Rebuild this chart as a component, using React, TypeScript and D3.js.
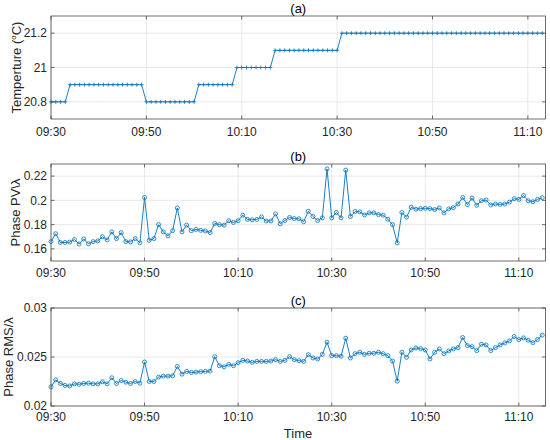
import * as d3 from 'd3'

// minutes after 09:30, one sample per minute
const xTicks = [0, 20, 40, 60, 80, 100]
const xTickLabels = ['09:30', '09:50', '10:10', '10:30', '10:50', '11:10']

const tempValues = [
  20.8, 20.8, 20.8, 20.8,
  20.9, 20.9, 20.9, 20.9, 20.9, 20.9, 20.9, 20.9, 20.9, 20.9, 20.9, 20.9, 20.9, 20.9, 20.9, 20.9,
  20.8, 20.8, 20.8, 20.8, 20.8, 20.8, 20.8, 20.8, 20.8, 20.8, 20.8,
  20.9, 20.9, 20.9, 20.9, 20.9, 20.9, 20.9, 20.9,
  21.0, 21.0, 21.0, 21.0, 21.0, 21.0, 21.0, 21.0,
  21.1, 21.1, 21.1, 21.1, 21.1, 21.1, 21.1, 21.1, 21.1, 21.1, 21.1, 21.1, 21.1, 21.1,
  21.2, 21.2, 21.2, 21.2, 21.2, 21.2, 21.2, 21.2, 21.2, 21.2, 21.2, 21.2, 21.2, 21.2, 21.2,
  21.2, 21.2, 21.2, 21.2, 21.2, 21.2, 21.2, 21.2, 21.2, 21.2, 21.2, 21.2, 21.2, 21.2, 21.2,
  21.2, 21.2, 21.2, 21.2, 21.2, 21.2, 21.2, 21.2, 21.2, 21.2, 21.2, 21.2, 21.2,
]
const tempTicks = [20.8, 21, 21.2]

const pvValues = [
  0.166, 0.1725, 0.1653, 0.1653, 0.1656, 0.1677, 0.164, 0.1682, 0.1642, 0.166,
  0.1666, 0.17, 0.1674, 0.174, 0.1685, 0.1734, 0.166, 0.1658, 0.1685, 0.165,
  0.2024, 0.167, 0.1685, 0.18, 0.174, 0.1707, 0.175, 0.1938, 0.174, 0.1796,
  0.175, 0.176, 0.1753, 0.1748, 0.1734, 0.181, 0.18, 0.1796, 0.1832, 0.1818,
  0.1832, 0.1878, 0.1843, 0.184, 0.1843, 0.1864, 0.183, 0.183, 0.1889, 0.1807,
  0.1834, 0.1859, 0.185, 0.1848, 0.1824, 0.191, 0.1867, 0.1834, 0.1856, 0.226,
  0.1856, 0.19, 0.1856, 0.225, 0.1867, 0.1908, 0.1905, 0.188, 0.1897, 0.1897,
  0.1883, 0.1878, 0.1845, 0.18, 0.165, 0.19, 0.1862, 0.1943, 0.1927, 0.1932,
  0.1935, 0.1932, 0.1924, 0.1938, 0.1897, 0.193, 0.194, 0.197, 0.2024, 0.1965,
  0.2019, 0.1959, 0.1997, 0.2003, 0.1962, 0.197, 0.1967, 0.197, 0.1986, 0.2014,
  0.2008, 0.204, 0.1997, 0.1989, 0.2008, 0.2022,
]
const pvTicks = [0.16, 0.18, 0.2, 0.22]

const rmsValues = [
  0.02195, 0.02267, 0.0223, 0.0221, 0.02205, 0.02226, 0.02222, 0.0223, 0.02233, 0.02226,
  0.02226, 0.02247, 0.02226, 0.02288, 0.0223, 0.0226, 0.02243, 0.0223, 0.0225, 0.02233,
  0.02449, 0.0225, 0.0225, 0.02295, 0.02305, 0.02305, 0.02308, 0.02404, 0.02325, 0.02353,
  0.02342, 0.02346, 0.0235, 0.02353, 0.02356, 0.02503, 0.02411, 0.024, 0.02425, 0.02411,
  0.02442, 0.02466, 0.02459, 0.02445, 0.02455, 0.02455, 0.02455, 0.02459, 0.02473, 0.02455,
  0.02466, 0.02503, 0.02473, 0.02462, 0.02455, 0.02524, 0.0249, 0.0248, 0.02527, 0.02651,
  0.02514, 0.02514, 0.02507, 0.02692, 0.0249, 0.02534, 0.02548, 0.02527, 0.02538, 0.02538,
  0.02548, 0.02534, 0.02514, 0.02459, 0.02253, 0.02548, 0.02497, 0.02572, 0.02592, 0.02586,
  0.02572, 0.0248, 0.02548, 0.02582, 0.02534, 0.02562, 0.02582, 0.02596, 0.02699, 0.02616,
  0.02606, 0.02565, 0.0263, 0.02623, 0.02565, 0.02596, 0.02623, 0.02644, 0.02664, 0.02709,
  0.02678, 0.02695, 0.02671, 0.02647, 0.02678, 0.02723,
]
const rmsTicks = [0.02, 0.025, 0.03]

const BLUE = '#0072BD'
const AXIS = '#4a4a4a'
const GRID = '#e3e3e3'
const FONT = '"Liberation Sans", Arial, Helvetica, sans-serif'

interface PanelProps {
  values: number[]
  yDomain: [number, number]
  yTicks: number[]
  xMax: number
  top: number
  bottom: number
  title: string
  ylabel: React.ReactNode
  ylabelX: number
  xLabelDy: number
  marker: 'plus' | 'circle'
}

function Panel({ values, yDomain, yTicks, xMax, top, bottom, title, ylabel, ylabelX, xLabelDy, marker }: PanelProps) {
  const left = 51
  const right = 545.5
  const x = d3.scaleLinear().domain([0, xMax]).range([left, right])
  const y = d3.scaleLinear().domain(yDomain).range([bottom, top])
  const pts = values.map((v, i) => [x(i), y(v)] as [number, number])
  const line = d3.line()(pts) || ''
  const tick = 3.5

  return (
    <g>
      {/* grid */}
      {xTicks.map((t) => (
        <line key={'gx' + t} x1={x(t)} x2={x(t)} y1={top} y2={bottom} stroke={GRID} strokeWidth={0.8} />
      ))}
      {yTicks.map((t) => (
        <line key={'gy' + t} x1={left} x2={right} y1={y(t)} y2={y(t)} stroke={GRID} strokeWidth={0.8} />
      ))}

      {/* data */}
      <path d={line} fill="none" stroke={BLUE} strokeWidth={0.9} />
      {pts.map(([px, py], i) =>
        marker === 'circle' ? (
          <circle key={i} cx={px} cy={py} r={2} fill="none" stroke={BLUE} strokeWidth={0.8} />
        ) : (
          <path key={i} d={`M${px - 2},${py}H${px + 2}M${px},${py - 2}V${py + 2}`} stroke={BLUE} strokeWidth={0.8} />
        )
      )}

      {/* box + ticks */}
      <rect x={left} y={top} width={right - left} height={bottom - top} fill="none" stroke={AXIS} strokeWidth={0.8} />
      {xTicks.map((t) => (
        <g key={'tx' + t}>
          <line x1={x(t)} x2={x(t)} y1={bottom} y2={bottom - tick} stroke={AXIS} strokeWidth={0.8} />
          <line x1={x(t)} x2={x(t)} y1={top} y2={top + tick} stroke={AXIS} strokeWidth={0.8} />
        </g>
      ))}
      {yTicks.map((t) => (
        <g key={'ty' + t}>
          <line x1={left} x2={left + tick} y1={y(t)} y2={y(t)} stroke={AXIS} strokeWidth={0.8} />
          <line x1={right} x2={right - tick} y1={y(t)} y2={y(t)} stroke={AXIS} strokeWidth={0.8} />
        </g>
      ))}

      {/* labels */}
      {xTicks.map((t, i) => (
        <text key={'lx' + t} x={x(t)} y={bottom + xLabelDy} textAnchor="middle" fontSize={12} fill="#262626">
          {xTickLabels[i]}
        </text>
      ))}
      {yTicks.map((t) => (
        <text key={'ly' + t} x={left - 4} y={y(t) + 4.2} textAnchor="end" fontSize={12} fill="#262626">
          {String(t)}
        </text>
      ))}
      <text x={(left + right) / 2} y={top - 3} textAnchor="middle" fontSize={13} fill="#000">
        {title}
      </text>
      <text
        transform={`translate(${ylabelX},${(top + bottom) / 2}) rotate(-90)`}
        textAnchor="middle"
        fontSize={13}
        fill="#262626"
      >
        {ylabel}
      </text>
    </g>
  )
}

export default function App() {
  return (
    <svg
      width={550}
      height={440}
      style={{ position: 'absolute', left: 0, top: 0, background: '#fff', fontFamily: FONT }}
    >
      <Panel
        values={tempValues}
        yDomain={[20.7, 21.3]}
        yTicks={tempTicks}
        xMax={103.7}
        top={16}
        bottom={119}
        title="(a)"
        ylabel={
          <>
            Temperture (<tspan fontSize={8} dy={-5}>o</tspan>
            <tspan dy={5}>C)</tspan>
          </>
        }
        ylabelX={21}
        xLabelDy={16.5}
        marker="plus"
      />
      <Panel
        values={pvValues}
        yDomain={[0.15, 0.23]}
        yTicks={pvTicks}
        xMax={105.7}
        top={164}
        bottom={261}
        title="(b)"
        ylabel="Phase PV\λ"
        ylabelX={20}
        xLabelDy={16}
        marker="circle"
      />
      <Panel
        values={rmsValues}
        yDomain={[0.02, 0.03]}
        yTicks={rmsTicks}
        xMax={105.7}
        top={308}
        bottom={406}
        title="(c)"
        ylabel="Phase RMS/λ"
        ylabelX={13}
        xLabelDy={14.8}
        marker="circle"
      />
      <text x={298} y={438} textAnchor="middle" fontSize={13} fill="#262626">
        Time
      </text>
    </svg>
  )
}
